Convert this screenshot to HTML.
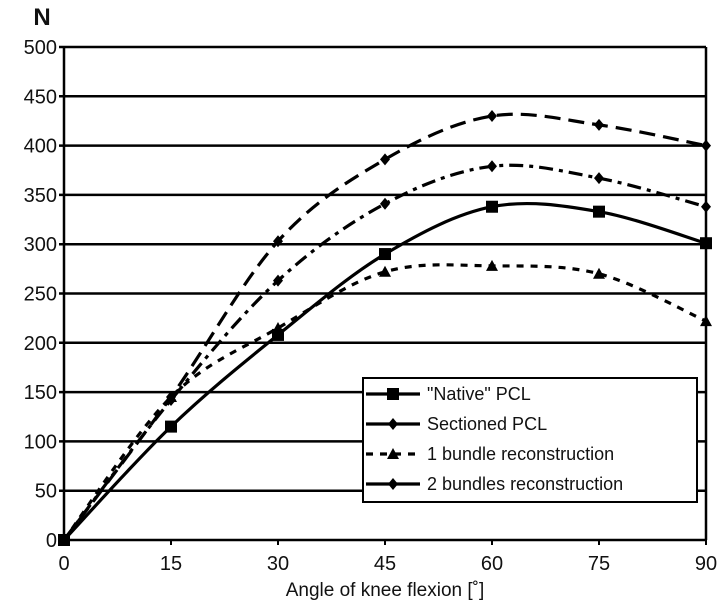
<!DOCTYPE html>
<html><head><meta charset="utf-8"><style>
body{margin:0;background:#fff;}
svg text{font-family:"Liberation Sans",Arial,sans-serif;fill:#111;}
</style></head><body>
<svg width="721" height="604" viewBox="0 0 721 604">
<g id="grid"></g><g id="series"></g><g id="legend"></g>
</svg>
<script>
const xTicks=[0,15,30,45,60,75,90];
const yTicks=[0,50,100,150,200,250,300,350,400,450,500];
const angles=[0,15,30,45,60,75,90];
const nativeVals=[0,115,208,290,338,333,301];
const sectionedVals=[0,145,303,386,430,421,400];
const oneBundleVals=[0,145,215,272,278,270,222];
const twoBundleVals=[0,142,263,341,379,367,338];
const seriesNames=['"Native" PCL','Sectioned PCL','1 bundle reconstruction','2 bundles reconstruction'];

const X0=64,X1=706,Y0=540,Y1=47;
const sx=v=>X0+(v/90)*(X1-X0);
const sy=v=>Y0-(v/500)*(Y0-Y1);
const NS='http://www.w3.org/2000/svg';
function mk(tag,attrs,parent,text){const e=document.createElementNS(NS,tag);for(const k in attrs)e.setAttribute(k,attrs[k]);if(text!==undefined)e.textContent=text;parent.appendChild(e);return e;}
const grid=document.getElementById('grid'),ser=document.getElementById('series'),leg=document.getElementById('legend');

yTicks.forEach(t=>{
 const l=mk('line',{x1:X0-5,x2:X1,y1:sy(t),y2:sy(t),stroke:'#000','stroke-width':2.5},grid);
 
 
 const tx=mk('text',{x:X0-7,y:sy(t)+7,'text-anchor':'end','font-size':20},grid,String(t));
 
 
});
xTicks.forEach(t=>{
 const l=mk('line',{x1:sx(t),x2:sx(t),y1:Y0,y2:Y0+5,stroke:'#000','stroke-width':2},grid);
 
 
 const tx=mk('text',{x:sx(t),y:Y0+30,'text-anchor':'middle','font-size':20},grid,String(t));
 
 
});
let a=mk('line',{x1:X0,x2:X0,y1:Y1,y2:Y0,stroke:'#000','stroke-width':2.5},grid);

a=mk('line',{x1:X1,x2:X1,y1:Y1,y2:Y0,stroke:'#000','stroke-width':2.5},grid);

let t=mk('text',{x:385,y:596,'text-anchor':'middle','font-size':19},grid,'Angle of knee flexion [˚]');

t=mk('text',{x:42,y:25,'text-anchor':'middle','font-size':24,'font-weight':'bold'},grid,'N');


function smooth(vals){
 const p=angles.map((x,i)=>[sx(x),sy(vals[i])]);
 let d='M'+p[0][0]+','+p[0][1];
 for(let i=0;i<p.length-1;i++){
  const p0=p[Math.max(0,i-1)],p1=p[i],p2=p[i+1],p3=p[Math.min(p.length-1,i+2)];
  const c1=[p1[0]+(p2[0]-p0[0])/6,p1[1]+(p2[1]-p0[1])/6];
  const c2=[p2[0]-(p3[0]-p1[0])/6,p2[1]-(p3[1]-p1[1])/6];
  d+=' C'+c1+' '+c2+' '+p2;
 }
 return d;
}
function marker(kind,x,y,parent){
 if(kind==='sq')return mk('rect',{x:x-6,y:y-6,width:12,height:12,fill:'#000'},parent);
 if(kind==='tri')return mk('path',{d:`M${x},${y-6}L${x+6},${y+5}L${x-6},${y+5}Z`,fill:'#000'},parent);
 return mk('path',{d:`M${x},${y-6}L${x+5},${y}L${x},${y+6}L${x-5},${y}Z`,fill:'#000'},parent);
}
const defs=[
 {vals:nativeVals,dash:'',ldash:'',mk:'sq',name:'native-pcl'},
 {vals:sectionedVals,dash:'16,8',ldash:'',mk:'dia',name:'sectioned-pcl'},
 {vals:oneBundleVals,dash:'7,7',ldash:'7,7',mk:'tri',name:'one-bundle'},
 {vals:twoBundleVals,dash:'14,6,4,6',ldash:'',mk:'dia',name:'two-bundles'}
];
defs.forEach(s=>{
 const g=mk('g',{},ser);
 
 
 const p=mk('path',{d:smooth(s.vals),fill:'none',stroke:'#000','stroke-width':3.2,'stroke-dasharray':s.dash},g);
 
 
 angles.forEach((x,i)=>{const m=marker(s.mk,sx(x),sy(s.vals[i]),g);
  
  });
});

const r=mk('rect',{x:363,y:378,width:334,height:124,fill:'#fff',stroke:'#000','stroke-width':2},leg);

defs.forEach((s,i)=>{
 const y=394+i*30;
 const g=mk('g',{},leg);
 
 
 mk('line',{x1:366,x2:420,y1:y,y2:y,stroke:'#000','stroke-width':3.2,'stroke-dasharray':s.ldash},g);
 marker(s.mk,393,y,g);
 mk('text',{x:427,y:y+6,'font-size':18},g,seriesNames[i]);
});
</script>
</body></html>
